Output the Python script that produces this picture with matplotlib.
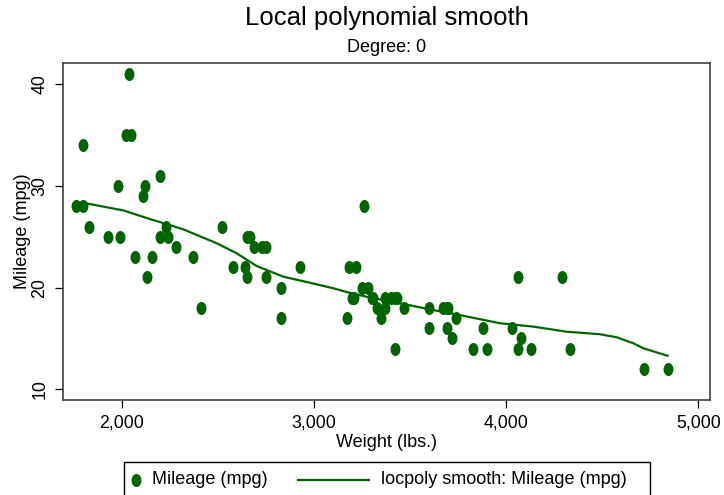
import matplotlib
matplotlib.use("Agg")
import matplotlib.pyplot as plt
import numpy as np
from matplotlib.path import Path
from matplotlib.patches import Rectangle
from matplotlib.lines import Line2D
from matplotlib.ticker import FuncFormatter
import matplotlib.transforms as mtransforms

plt.rcParams['font.family'] = ['Liberation Sans', 'DejaVu Sans']

# Scatter data: weight (lbs.) and mileage (mpg)
weight = [2930, 3350, 2640, 3250, 4080, 3670, 2230, 3280, 3880, 3400,
          4330, 3900, 4290, 2110, 3690, 3180, 3220, 2750, 3430, 2120,
          3600, 3600, 3740, 1800, 2650, 4840, 4720, 3830, 2580, 4060,
          3720, 3370, 4130, 2830, 4060, 3310, 3300, 3690, 3370, 2730,
          4030, 3260, 1800, 2200, 2520, 3330, 3700, 3470, 3210, 3200,
          3420, 2690, 2830, 2070, 2650, 2370, 2020, 2280, 2750, 2130,
          2240, 1760, 1980, 3420, 1830, 2050, 2410, 2200, 2670, 2160,
          2040, 1930, 1990, 3170]
mpg = [22, 17, 22, 20, 15, 18, 26, 20, 16, 19,
       14, 14, 21, 29, 16, 22, 22, 24, 19, 30,
       18, 16, 17, 28, 21, 12, 12, 14, 22, 14,
       15, 18, 14, 20, 21, 19, 19, 18, 19, 24,
       16, 28, 34, 25, 26, 18, 18, 18, 19, 19,
       19, 24, 17, 23, 25, 23, 35, 24, 21, 21,
       25, 28, 30, 14, 26, 35, 18, 31, 25, 23,
       41, 25, 25, 17]

# Smooth curve
smooth_x = [1760, 1800, 2008, 2147, 2234, 2320, 2494, 2598, 2702, 2841,
            3014, 3101, 3188, 3300, 3448, 3620, 3760, 3968, 4141, 4314,
            4488, 4575, 4662, 4714, 4840]
smooth_y = [28.4, 28.35, 27.6, 26.75, 26.25, 25.74, 24.37, 23.38, 22.13, 21.08,
            20.33, 19.94, 19.48, 19.0, 18.47, 17.8, 17.3, 16.5, 16.17, 15.67,
            15.42, 15.12, 14.53, 14.04, 13.3]

xticks = [2000, 3000, 4000, 5000]
yticks = [10, 20, 30, 40]

green = '#006400'
W, H = 724, 495
fig = plt.figure(figsize=(W/100, H/100), dpi=100)
ax = fig.add_axes([63.3/W, 1-400/H, (710-63.3)/W, (400-63.3)/H])

circ = Path.unit_circle()
ell = mtransforms.Affine2D().scale(0.76, 1.0).transform_path(circ)

ax.plot(smooth_x, smooth_y, color=green, lw=1.6, zorder=2)
ax.plot(weight, mpg, linestyle='none', marker=ell, markersize=9.4,
        color=green, markeredgewidth=0, zorder=3)

ax.set_xlim(1696, 5061)
ax.set_ylim(8.95, 42.07)
ax.set_xticks(xticks)
ax.set_yticks(yticks)
ax.xaxis.set_major_formatter(FuncFormatter(lambda v, p: f"{int(v):,}"))
ax.tick_params(direction='out', length=5.8, width=0.9, labelsize=12.8, pad=5)
for lab in ax.get_yticklabels():
    lab.set_rotation(90)
    lab.set_va('center')
for s in ax.spines.values():
    s.set_color('#404040')
    s.set_linewidth(1.2)

ax.set_xlabel('Weight (lbs.)', fontsize=13, labelpad=1.5)
ax.set_ylabel('Mileage (mpg)', fontsize=13, labelpad=0)

cx = (63.3 + 710) / 2 / W
fig.text(cx, 1-18/H, 'Local polynomial smooth', ha='center', va='center', fontsize=18.5)
fig.text(cx, 1-47/H, 'Degree: 0', ha='center', va='center', fontsize=13)

# Legend (drawn manually to match layout)
def fx(px):
    return px / W
def fy(py):
    return 1 - py / H

fig.add_artist(Rectangle((fx(124), fy(498)), fx(650) - fx(124), fy(462) - fy(498),
                         transform=fig.transFigure, facecolor='white',
                         edgecolor='black', lw=1.0))
fig.add_artist(Line2D([fx(136)], [fy(480)], transform=fig.transFigure,
                      marker=ell, markersize=9.4, color=green,
                      markeredgewidth=0, linestyle='none'))
fig.text(fx(152), fy(480), 'Mileage (mpg)', ha='left', va='center', fontsize=13)
fig.add_artist(Line2D([fx(298), fx(369)], [fy(480), fy(480)],
                      transform=fig.transFigure, color=green, lw=1.6))
fig.text(fx(381), fy(480), 'locpoly smooth: Mileage (mpg)', ha='left', va='center',
         fontsize=13)

fig.savefig('out.png', dpi=100)
